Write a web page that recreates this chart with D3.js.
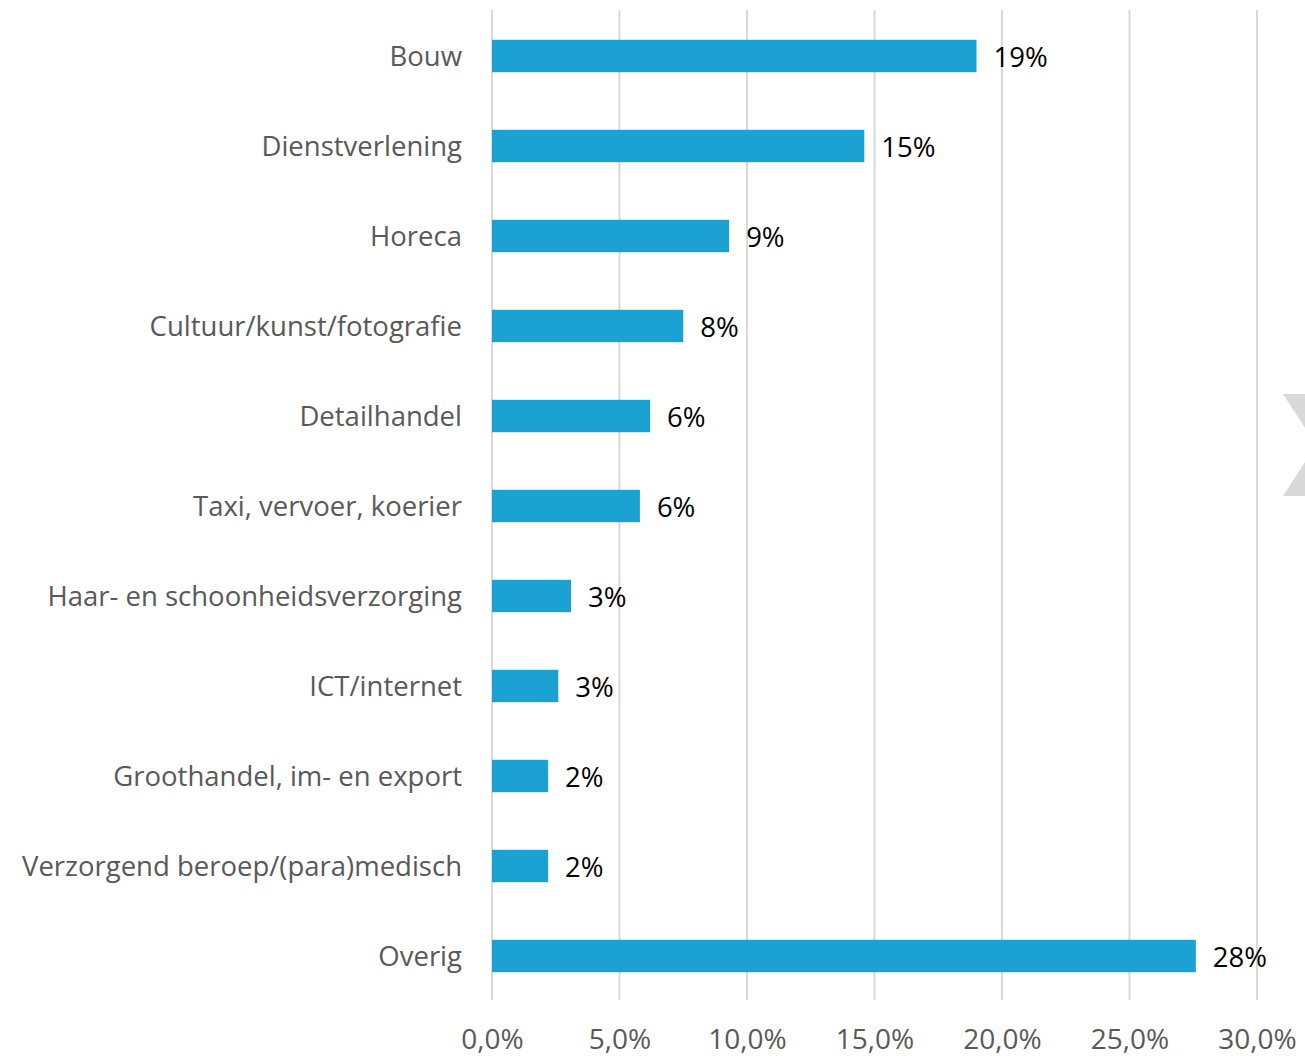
<!DOCTYPE html>
<html>
<head>
<meta charset="utf-8">
<script src="https://cdn.jsdelivr.net/npm/d3@7"></script>
<style>
  html, body { margin: 0; padding: 0; background: #fff; }
  svg { display: block; }
  text { font-family: "Open Sans", "Noto Sans", sans-serif; }
</style>
</head>
<body>
<svg id="chart" width="1305" height="1056"></svg>
<script>
// Sectors, top to bottom, with their share of respondents
const categories = [
  "Bouw",
  "Dienstverlening",
  "Horeca",
  "Cultuur/kunst/fotografie",
  "Detailhandel",
  "Taxi, vervoer, koerier",
  "Haar- en schoonheidsverzorging",
  "ICT/internet",
  "Groothandel, im- en export",
  "Verzorgend beroep/(para)medisch",
  "Overig"
];
const shares = [0.190, 0.146, 0.093, 0.075, 0.062, 0.058, 0.031, 0.026, 0.022, 0.022, 0.276];
const tickValues = [0, 0.05, 0.10, 0.15, 0.20, 0.25, 0.30];
const tickLabels = ["0,0%", "5,0%", "10,0%", "15,0%", "20,0%", "25,0%", "30,0%"];

const svg = d3.select("#chart");
const plotLeft = 492, plotRight = 1257, plotTop = 11, plotBottom = 1001;

const x = d3.scaleLinear().domain([0, 0.30]).range([plotLeft, plotRight]);
const y = d3.scaleBand().domain(categories).range([plotTop, plotBottom])
  .paddingInner(0.64).paddingOuter(0.32);

// vertical gridlines
svg.append("g").selectAll("line")
  .data(tickValues)
  .join("line")
  .attr("x1", d => x(d)).attr("x2", d => x(d))
  .attr("y1", 10).attr("y2", 1000)
  .attr("stroke", "#d9d9d9")
  .attr("stroke-width", 2);

// x-axis tick labels
const xAxis = d3.axisBottom(x)
  .tickValues(tickValues)
  .tickFormat((d, i) => tickLabels[i])
  .tickSize(0)
  .tickPadding(0);
const gx = svg.append("g").attr("transform", "translate(0,1049)").call(xAxis);
gx.select(".domain").remove();
gx.selectAll("text")
  .attr("dy", "0")
  .attr("fill", "#595959")
  .style("font-size", "28px")
  .style("font-family", "'Open Sans', sans-serif");

// category labels
const yAxis = d3.axisLeft(y).tickSize(0).tickPadding(0);
const gy = svg.append("g").attr("transform", `translate(${plotLeft - 30},0)`).call(yAxis);
gy.select(".domain").remove();
gy.selectAll("text")
  .attr("fill", "#595959")
  .attr("dy", "0.35em")
  .style("font-size", "27.5px")
  .style("font-family", "'Open Sans', sans-serif");

// bars
svg.append("g").selectAll("rect")
  .data(categories)
  .join("rect")
  .attr("x", x(0))
  .attr("y", d => y(d))
  .attr("width", (d, i) => x(shares[i]) - x(0))
  .attr("height", y.bandwidth())
  .attr("fill", "#1ba1d2");

// value labels
const fmt = d3.format(".0%");
svg.append("g").selectAll("text")
  .data(categories)
  .join("text")
  .attr("x", (d, i) => x(shares[i]) + 17)
  .attr("y", d => y(d) + y.bandwidth() / 2)
  .attr("dy", "0.4em")
  .attr("fill", "#000")
  .style("font-size", "27.5px")
  .text((d, i) => fmt(shares[i]));

// chevron ornament at the right edge
svg.append("path")
  .attr("d", "M1283,394 L1305,394 L1305,428 Z M1283,496 L1305,496 L1305,462 Z")
  .attr("fill", "#d9d9d9");
</script>
</body>
</html>
